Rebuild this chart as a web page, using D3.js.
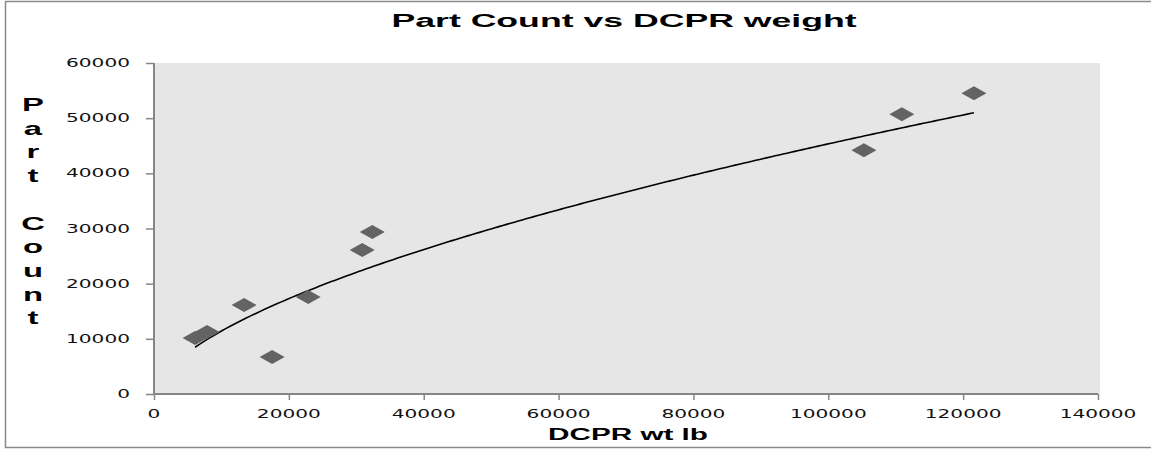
<!DOCTYPE html>
<html>
<head>
<meta charset="utf-8">
<script src="https://cdn.jsdelivr.net/npm/d3@7"></script>
<style>
  html, body { margin: 0; padding: 0; background: #fff; overflow: hidden; }
  svg { display: block; }
</style>
</head>
<body>
<svg id="chart" width="1151" height="450"></svg>
<script>
// DCPR weight (lb) and the part count of each configuration
const weights = [6090, 7870, 13360, 17520, 22870, 30880, 32370, 105280, 110910, 121600];
const partCounts = [10150, 11230, 16120, 6700, 17570, 26090, 29350, 44200, 50720, 54530];

const xTicks = [0, 20000, 40000, 60000, 80000, 100000, 120000, 140000];
const yTicks = [0, 10000, 20000, 30000, 40000, 50000, 60000];

const titleText = "Part Count vs DCPR weight";
const xTitleText = "DCPR wt lb";
const yTitleText = "Part Count";

const svg = d3.select("#chart");
const plot = { left: 154, right: 1098, top: 63, bottom: 394 };
const stretch = 1.75; // horizontal glyph scale used for tick text

const x = d3.scaleLinear().domain([0, 140000]).range([plot.left, plot.right]);
const y = d3.scaleLinear().domain([0, 60000]).range([plot.bottom, plot.top]);

// outer chart frame (left, top and bottom edges fall inside the view)
svg.append("path")
  .attr("d", "M1151,1.5H5.5V447.5H1151")
  .attr("fill", "none").attr("stroke", "#8a8a8a").attr("stroke-width", 1.5);

// plot background
svg.append("rect")
  .attr("x", plot.left).attr("y", plot.top)
  .attr("width", plot.right - plot.left + 2).attr("height", plot.bottom - plot.top)
  .attr("fill", "#e6e6e6");

// helper: horizontally stretched text anchored at (px, py)
function label(g, txt, px, py, opts) {
  const t = g.append("text")
    .attr("transform", `translate(${px},${py}) scale(${opts.sx || stretch},1)`)
    .attr("text-anchor", opts.anchor || "middle")
    .attr("font-family", opts.family)
    .attr("font-size", opts.size)
    .attr("font-weight", opts.weight || "normal")
    .attr("fill", opts.fill || "#000")
    .text(txt);
  if (opts.width) {
    const natural = t.node().getComputedTextLength();
    const sx = opts.width / natural;
    t.attr("transform", `translate(${px},${py}) scale(${sx},1)`);
    return sx;
  }
  return opts.sx || stretch;
}

// axes
const axisColor = "#868686";
const xAxis = svg.append("g")
  .attr("transform", `translate(0,${plot.bottom})`)
  .call(d3.axisBottom(x).tickValues(xTicks).tickSize(6).tickFormat(""));
const yAxis = svg.append("g")
  .attr("transform", `translate(${plot.left},0)`)
  .call(d3.axisLeft(y).tickValues(yTicks).tickSize(8).tickFormat(""));
[xAxis, yAxis].forEach(a => {
  a.select(".domain").attr("stroke", axisColor).attr("stroke-width", 2);
  a.selectAll(".tick line").attr("stroke", axisColor).attr("stroke-width", 1.5);
});
xAxis.select(".domain").attr("d", `M${plot.left},0H${plot.right}`);
yAxis.select(".domain").attr("d", `M0,${plot.top}V${plot.bottom}`);

// tick labels
const tickFont = { family: "DejaVu Sans, Verdana, sans-serif", size: 11.5, fill: "#111" };
xTicks.forEach(v => label(svg, d3.format("d")(v), x(v), 418, tickFont));
yTicks.forEach(v => label(svg, d3.format("d")(v), 130, y(v) + 4, Object.assign({ anchor: "end" }, tickFont)));

// power-law trendline fitted on log-log data
const lx = weights.map(Math.log), ly = partCounts.map(Math.log);
const mx = d3.mean(lx), my = d3.mean(ly);
const b = d3.sum(lx, (v, i) => (v - mx) * (ly[i] - my)) / d3.sum(lx, v => (v - mx) ** 2);
const a = Math.exp(my - b * mx);
const [xMin, xMax] = d3.extent(weights);
const curve = d3.range(0, 201).map(i => {
  const w = xMin + (xMax - xMin) * i / 200;
  return [w, a * Math.pow(w, b)];
});
svg.append("path")
  .datum(curve)
  .attr("fill", "none").attr("stroke", "#000").attr("stroke-width", 1.6)
  .attr("d", d3.line().x(d => x(d[0])).y(d => y(d[1])));

// diamond markers
const halfW = 12.5, halfH = 7;
svg.append("g").selectAll("path")
  .data(weights.map((w, i) => [w, partCounts[i]]))
  .join("path")
  .attr("transform", d => `translate(${x(d[0])},${y(d[1])})`)
  .attr("d", `M0,${-halfH}L${halfW},0L0,${halfH}L${-halfW},0Z`)
  .attr("fill", "#636363");

// titles
const boldFont = { family: "Liberation Sans, Arial, sans-serif", weight: "bold" };
const titleSx = label(svg, titleText, 624, 27, Object.assign({ size: 19, width: 465 }, boldFont));
label(svg, xTitleText, 628, 440, Object.assign({ size: 17, width: 160 }, boldFont));

// vertical, letter-stacked y-axis title
yTitleText.split("").forEach((ch, i) => {
  if (ch === " ") return;
  label(svg, ch, 33, 111 + i * 23.7, Object.assign({ size: 17.5, sx: titleSx }, boldFont));
});
</script>
</body>
</html>
